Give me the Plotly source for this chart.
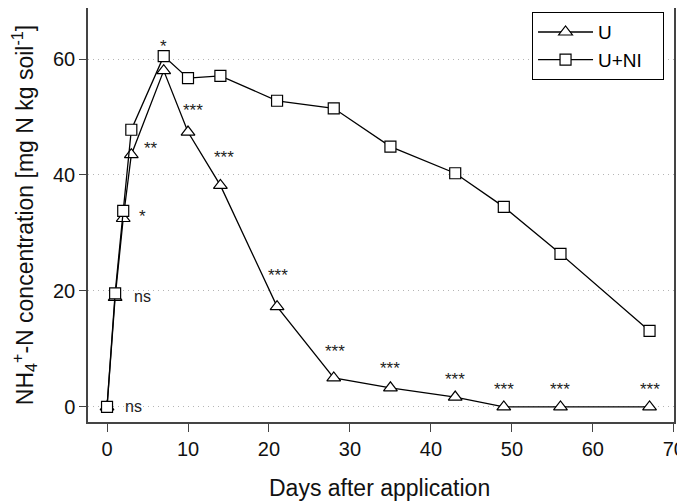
import plotly.graph_objects as go

days = [0, 1, 2, 3, 7, 10, 14, 21, 28, 35, 43, 49, 56, 67]
u_vals = [0, 18.9, 32.5, 43.5, 58.0, 47.4, 38.2, 17.3, 5.0, 3.3, 1.7, 0, 0, 0]
uni_vals = [0, 19.6, 33.8, 47.8, 60.5, 56.7, 57.1, 52.8, 51.5, 44.9, 40.3, 34.5, 26.4, 13.1]

sig_labels = ["ns", "ns", "*", "**", "*", "***", "***", "***", "***", "***", "***", "***", "***", "***"]
sig_x = [2.0, 3.1, 4.4, 5.4, 7.0, 10.6, 14.4, 21.1, 28.1, 35.0, 43.0, 49.0, 56.0, 67.0]
sig_y = [0, 19.1, 32.8, 44.5, 62.2, 51.2, 43.0, 22.6, 9.5, 6.6, 4.7, 3.0, 3.0, 3.0]
sig_anchor = ["left", "left", "center", "center", "center", "center", "center", "center",
              "center", "center", "center", "center", "center", "center"]

x_ticks = [0, 10, 20, 30, 40, 50, 60, 70]
y_ticks = [0, 20, 40, 60]
x_title = "Days after application"

FONT = "Liberation Sans, Arial, sans-serif"
NB = "\u00a0"

fig = go.Figure()
fig.add_trace(go.Scatter(
    x=days, y=u_vals, name="U", mode="lines+markers",
    line=dict(color="black", width=1.3),
    marker=dict(symbol="triangle-up", size=12, color="white",
                line=dict(color="black", width=1.2)),
))
fig.add_trace(go.Scatter(
    x=days, y=uni_vals, name="U+NI" + NB * 3, mode="lines+markers",
    line=dict(color="black", width=1.3),
    marker=dict(symbol="square", size=11, color="white",
                line=dict(color="black", width=1.2)),
))

for lab, xx, yy, anc in zip(sig_labels, sig_x, sig_y, sig_anchor):
    fig.add_annotation(x=xx, y=yy, text=lab, showarrow=False, xanchor=anc,
                       yanchor="middle", xref="x", yref="y",
                       font=dict(family=FONT, size=16 if lab == "ns" else 17, color="#222"))

fig.add_annotation(x=0.498, y=-0.1594, xref="paper", yref="paper", text=x_title,
                   showarrow=False, xanchor="center", yanchor="middle",
                   font=dict(family=FONT, size=23, color="#111"))

fig.update_layout(
    width=677, height=494,
    margin=dict(l=80, r=11, t=0, b=80),
    plot_bgcolor="white", paper_bgcolor="white",
    font=dict(family=FONT, color="black"),
    showlegend=True,
    legend=dict(x=0.983, y=0.99, xanchor="right", yanchor="top",
                bordercolor="black", borderwidth=1, bgcolor="white",
                itemwidth=55,
                font=dict(family=FONT, size=19), tracegroupgap=0),
)
fig.update_xaxes(
    range=[-2.35, 70.02], tickvals=x_ticks, ticks="outside", ticklen=8,
    tickcolor="#444", tickwidth=1.2, automargin=False, ticklabeloverflow="allow",
    showline=True, mirror=True, linecolor="#444", linewidth=1.5,
    showgrid=False, zeroline=False,
    tickfont=dict(family=FONT, size=20, color="#111"),
)
fig.update_yaxes(
    range=[-2.6, 68.8], tickvals=y_ticks, ticks="outside", ticklen=7,
    tickcolor="#444", tickwidth=1.2, automargin=False,
    showline=True, mirror=True, linecolor="#444", linewidth=1.5,
    showgrid=True, gridcolor="#b5b5b5", griddash="1px,4px", gridwidth=1,
    zeroline=False,
    tickfont=dict(family=FONT, size=20, color="#111"),
    title=dict(text="NH<sub>4</sub><sup>+</sup>-N concentration [mg N kg soil<sup>-1</sup>]",
               font=dict(family=FONT, size=23, color="#111"), standoff=14),
)

fig.write_html("out.html")
